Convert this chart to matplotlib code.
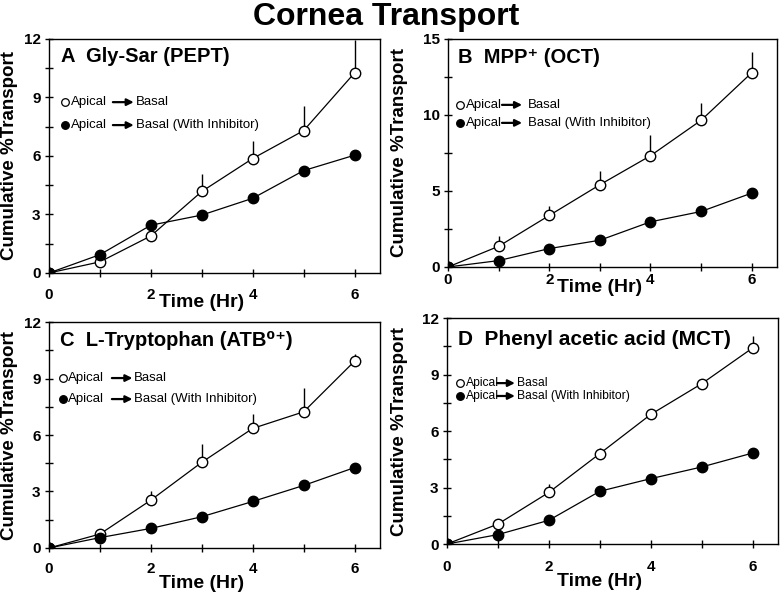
import matplotlib
matplotlib.use("Agg")
import matplotlib.pyplot as plt
from matplotlib.ticker import MultipleLocator

plt.rcParams['font.family'] = ['Liberation Sans', 'DejaVu Sans']

time = [0, 1, 2, 3, 4, 5, 6]

# Panel A: Gly-Sar (PEPT)
a_open = [0, 0.57, 1.90, 4.18, 5.87, 7.30, 10.26]
a_open_err = [0, 0, 0, 0.90, 0.90, 1.26, 1.68]
a_fill = [0, 0.94, 2.45, 2.97, 3.83, 5.25, 6.04]

# Panel B: MPP+ (OCT)
b_open = [0, 1.36, 3.39, 5.41, 7.32, 9.65, 12.78]
b_open_err = [0, 0.71, 0.61, 0.88, 1.34, 1.15, 1.34]
b_fill = [0, 0.42, 1.21, 1.76, 2.97, 3.65, 4.86]

# Panel C: L-Tryptophan (ATB0+)
c_open = [0, 0.74, 2.54, 4.55, 6.35, 7.23, 9.92]
c_open_err = [0, 0, 0.46, 0.97, 0.76, 1.24, 0.37]
c_fill = [0, 0.55, 1.04, 1.66, 2.47, 3.32, 4.27]

# Panel D: Phenyl acetic acid (MCT)
d_open = [0, 1.06, 2.74, 4.80, 6.88, 8.51, 10.41]
d_open_err = [0, 0, 0.45, 0.30, 0.10, 0.27, 0.65]
d_fill = [0, 0.50, 1.26, 2.80, 3.47, 4.09, 4.83]

panel_letters = ['A', 'B', 'C', 'D']
panel_titles = ['Gly-Sar (PEPT)', 'MPP\u207a (OCT)', 'L-Tryptophan (ATB\u2070\u207a)',
                'Phenyl acetic acid (MCT)']
y_max = [12, 15, 12, 12]
y_step = [3, 5, 3, 3]
leg_open = 'Apical', 'Basal'
leg_fill = 'Apical', 'Basal (With Inhibitor)'

fig = plt.figure(figsize=(7.8, 5.95), dpi=100)

rects = [
    [0.0628, 0.5412, 0.4244, 0.3933],
    [0.5744, 0.5513, 0.4218, 0.3832],
    [0.0628, 0.0790, 0.4244, 0.3798],
    [0.5731, 0.0857, 0.4244, 0.3798],
]
opens = [a_open, b_open, c_open, d_open]
errs = [a_open_err, b_open_err, c_open_err, d_open_err]
fills = [a_fill, b_fill, c_fill, d_fill]

# layout parameters per panel (axes fraction)
title_pos = [(0.036, 0.925), (0.030, 0.918), (0.033, 0.918), (0.033, 0.905)]
leg_marker_x = [0.048, 0.036, 0.042, 0.039]
leg_rows = [(0.730, 0.632), (0.711, 0.632), (0.752, 0.659), (0.712, 0.655)]
leg_text_x = [0.066, 0.054, 0.056, 0.056]
arrow_x = [(0.193, 0.256), (0.164, 0.225), (0.190, 0.252), (0.151, 0.205)]
basal_x = [0.262, 0.243, 0.257, 0.210]
leg_fs = [9.5, 9.5, 9.5, 8.7]
xpad = [8, 1.5, 7, 8.5]
xlabel_y = [-0.128, -0.088, -0.155, -0.168]
title_fs = [14.5, 14.5, 14.5, 15]
ylabel_x = [-0.093, -0.122, -0.093, -0.118]

for i in range(4):
    ax = fig.add_axes(rects[i])
    ax.errorbar(time, opens[i], yerr=[[0] * 7, errs[i]], fmt='none',
                ecolor='black', elinewidth=1.0, capsize=0, zorder=2)
    ax.plot(time, opens[i], '-o', color='black', mfc='white', mec='black',
            ms=7.5, lw=0.9, mew=1.0, zorder=3)
    ax.plot(time, fills[i], '-o', color='black', mfc='black', mec='black',
            ms=7.5, lw=0.9, zorder=3)
    ax.set_xlim(0, 6.5)
    ax.set_ylim(0, y_max[i])
    ax.xaxis.set_major_locator(MultipleLocator(2))
    ax.xaxis.set_minor_locator(MultipleLocator(1))
    ax.yaxis.set_major_locator(MultipleLocator(y_step[i]))
    ax.yaxis.set_minor_locator(MultipleLocator(y_step[i] / 2))
    ax.tick_params(which='both', direction='inout', length=6, width=1)
    ax.tick_params(axis='x', which='major', pad=xpad[i], labelsize=11)
    ax.tick_params(axis='y', which='major', pad=3, labelsize=11)
    for lab in ax.get_xticklabels() + ax.get_yticklabels():
        lab.set_fontweight('bold')
    for s in ax.spines.values():
        s.set_linewidth(1.0)
    ax.set_ylabel('Cumulative %Transport', fontsize=13.5, fontweight='bold')
    ax.yaxis.set_label_coords(ylabel_x[i], 0.5)
    ax.text(3 / 6.5, xlabel_y[i], 'Time (Hr)', transform=ax.transAxes,
            ha='center', va='center', fontsize=14, fontweight='bold')
    tx, ty = title_pos[i]
    ax.text(tx, ty, panel_letters[i] + '  ' + panel_titles[i], transform=ax.transAxes,
            ha='left', va='center', fontsize=title_fs[i], fontweight='bold')
    # legend
    for row, (style, labels) in enumerate([('white', leg_open), ('black', leg_fill)]):
        yy = leg_rows[i][row]
        ax.plot([leg_marker_x[i]], [yy], 'o', transform=ax.transAxes, mfc=style,
                mec='black', ms=5.5, mew=0.9, clip_on=False)
        ax.text(leg_text_x[i], yy, labels[0], transform=ax.transAxes,
                ha='left', va='center', fontsize=leg_fs[i])
        ax.annotate('', xy=(arrow_x[i][1], yy), xytext=(arrow_x[i][0], yy),
                    xycoords='axes fraction', textcoords='axes fraction',
                    arrowprops=dict(arrowstyle='-|>', color='black', lw=1.6,
                                    mutation_scale=10, shrinkA=0, shrinkB=0))
        ax.text(basal_x[i], yy, labels[1], transform=ax.transAxes,
                ha='left', va='center', fontsize=leg_fs[i])

fig.text(0.495, 0.958, 'Cornea Transport', ha='center', va='baseline',
         fontsize=23, fontweight='bold')

fig.savefig('out.png', dpi=100)
